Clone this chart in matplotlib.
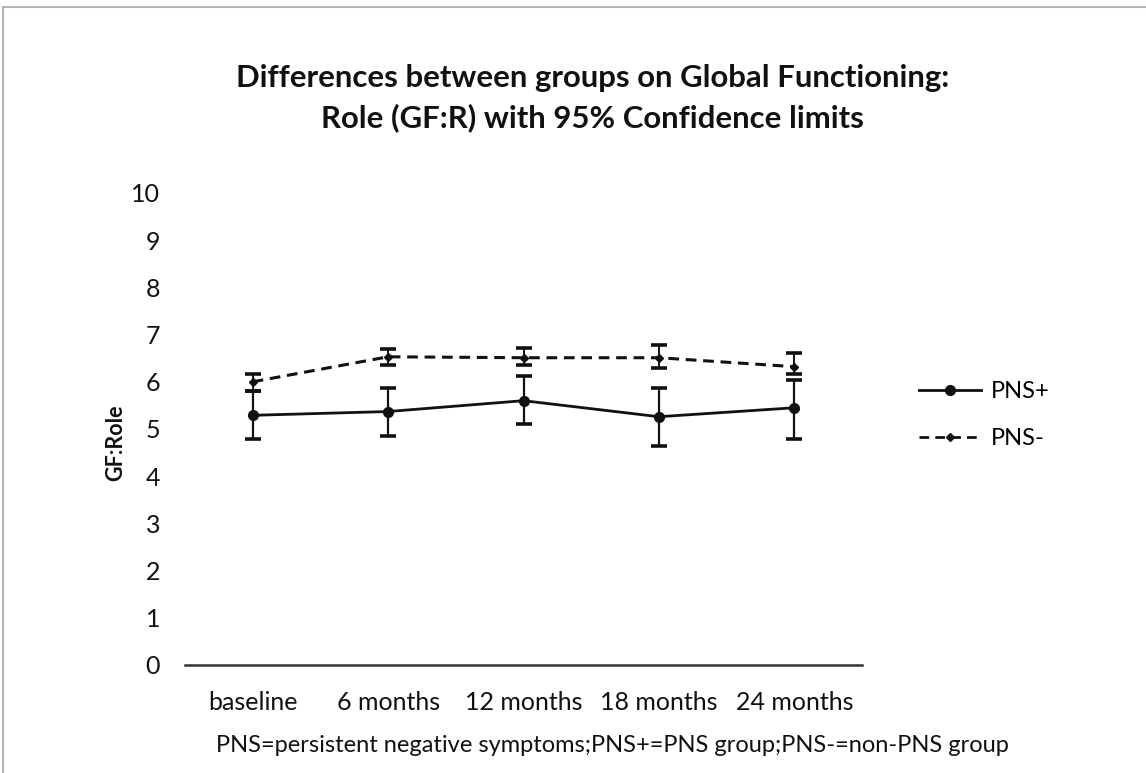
import matplotlib.pyplot as plt
from matplotlib.patches import Rectangle
from matplotlib.lines import Line2D

plt.rcParams['font.family'] = ['Lato', 'DejaVu Sans']

# time points
timepoints = ['baseline', '6 months', '12 months', '18 months', '24 months']

# PNS+ group: means and 95% confidence limits
pns_pos_mean = [5.29, 5.37, 5.60, 5.26, 5.45]
pns_pos_lower = [4.78, 4.86, 5.10, 4.65, 4.78]
pns_pos_upper = [5.81, 5.86, 6.13, 5.86, 6.03]

# PNS- group: means and 95% confidence limits
pns_neg_mean = [6.00, 6.53, 6.51, 6.51, 6.32]
pns_neg_lower = [5.81, 6.36, 6.36, 6.30, 6.17]
pns_neg_upper = [6.17, 6.70, 6.72, 6.77, 6.62]

fig = plt.figure(figsize=(11.46, 7.73), dpi=100)

# grey frame round the chart area
fig.patches.append(Rectangle((3 / 1146, -0.01), 1.2, 1 - 7 / 773 + 0.01,
                             transform=fig.transFigure, fill=False,
                             edgecolor='#b5b5b5', linewidth=1.5))

ax = fig.add_axes([185 / 1146, 1 - 665 / 773, 677 / 1146, (665 - 193) / 773])
x = list(range(len(timepoints)))

err_pos = [[m - lo for m, lo in zip(pns_pos_mean, pns_pos_lower)],
           [hi - m for m, hi in zip(pns_pos_mean, pns_pos_upper)]]
err_neg = [[m - lo for m, lo in zip(pns_neg_mean, pns_neg_lower)],
           [hi - m for m, hi in zip(pns_neg_mean, pns_neg_upper)]]

ink = '#111111'
ax.errorbar(x, pns_pos_mean, yerr=err_pos, color=ink, linewidth=2.0,
            marker='o', markersize=7, capsize=5.5, capthick=2.6,
            elinewidth=1.6)
ax.errorbar(x, pns_neg_mean, yerr=err_neg, color=ink, linewidth=2.2,
            linestyle=(0, (3.5, 2.2)), marker='D', markersize=4.2,
            capsize=5.5, capthick=2.6, elinewidth=1.4)

ax.set_xlim(-0.5, 4.5)
ax.set_ylim(0, 10)
ax.set_yticks(range(0, 11))
ax.set_xticks(x)
ax.set_xticklabels(timepoints)
ax.tick_params(axis='both', length=0, labelsize=18, colors=ink)
ax.tick_params(axis='x', pad=19)
ax.tick_params(axis='y', pad=18)
for side in ['top', 'right', 'left']:
    ax.spines[side].set_visible(False)
ax.spines['bottom'].set_color('#333333')
ax.spines['bottom'].set_linewidth(1.8)

ax.set_ylabel('GF:Role', fontsize=15.5, fontweight='bold', color=ink)
ax.yaxis.set_label_coords(-0.087, 0.47)

fig.text(0.517, 1 - 98 / 773,
         'Differences between groups on Global Functioning:\nRole (GF:R) with 95% Confidence limits',
         ha='center', va='center', fontsize=22.4, fontweight='bold',
         linespacing=1.5, color=ink)

handles = [
    Line2D([], [], color=ink, linewidth=2.0, marker='o', markersize=7),
    Line2D([], [], color=ink, linewidth=2.0, linestyle=(0, (3.5, 2.2)),
           marker='D', markersize=4.2),
]
ax.legend(handles, ['PNS+', 'PNS-'], loc='center left',
          bbox_to_anchor=(1.053, 0.53), frameon=False, fontsize=17,
          handlelength=2.6, labelspacing=1.1, handletextpad=0.45)

fig.text(0.534, 1 - 746 / 773,
         'PNS=persistent negative symptoms;PNS+=PNS group;PNS-=non-PNS group',
         ha='center', va='center', fontsize=17, color=ink)

fig.savefig('out.png', dpi=100)
